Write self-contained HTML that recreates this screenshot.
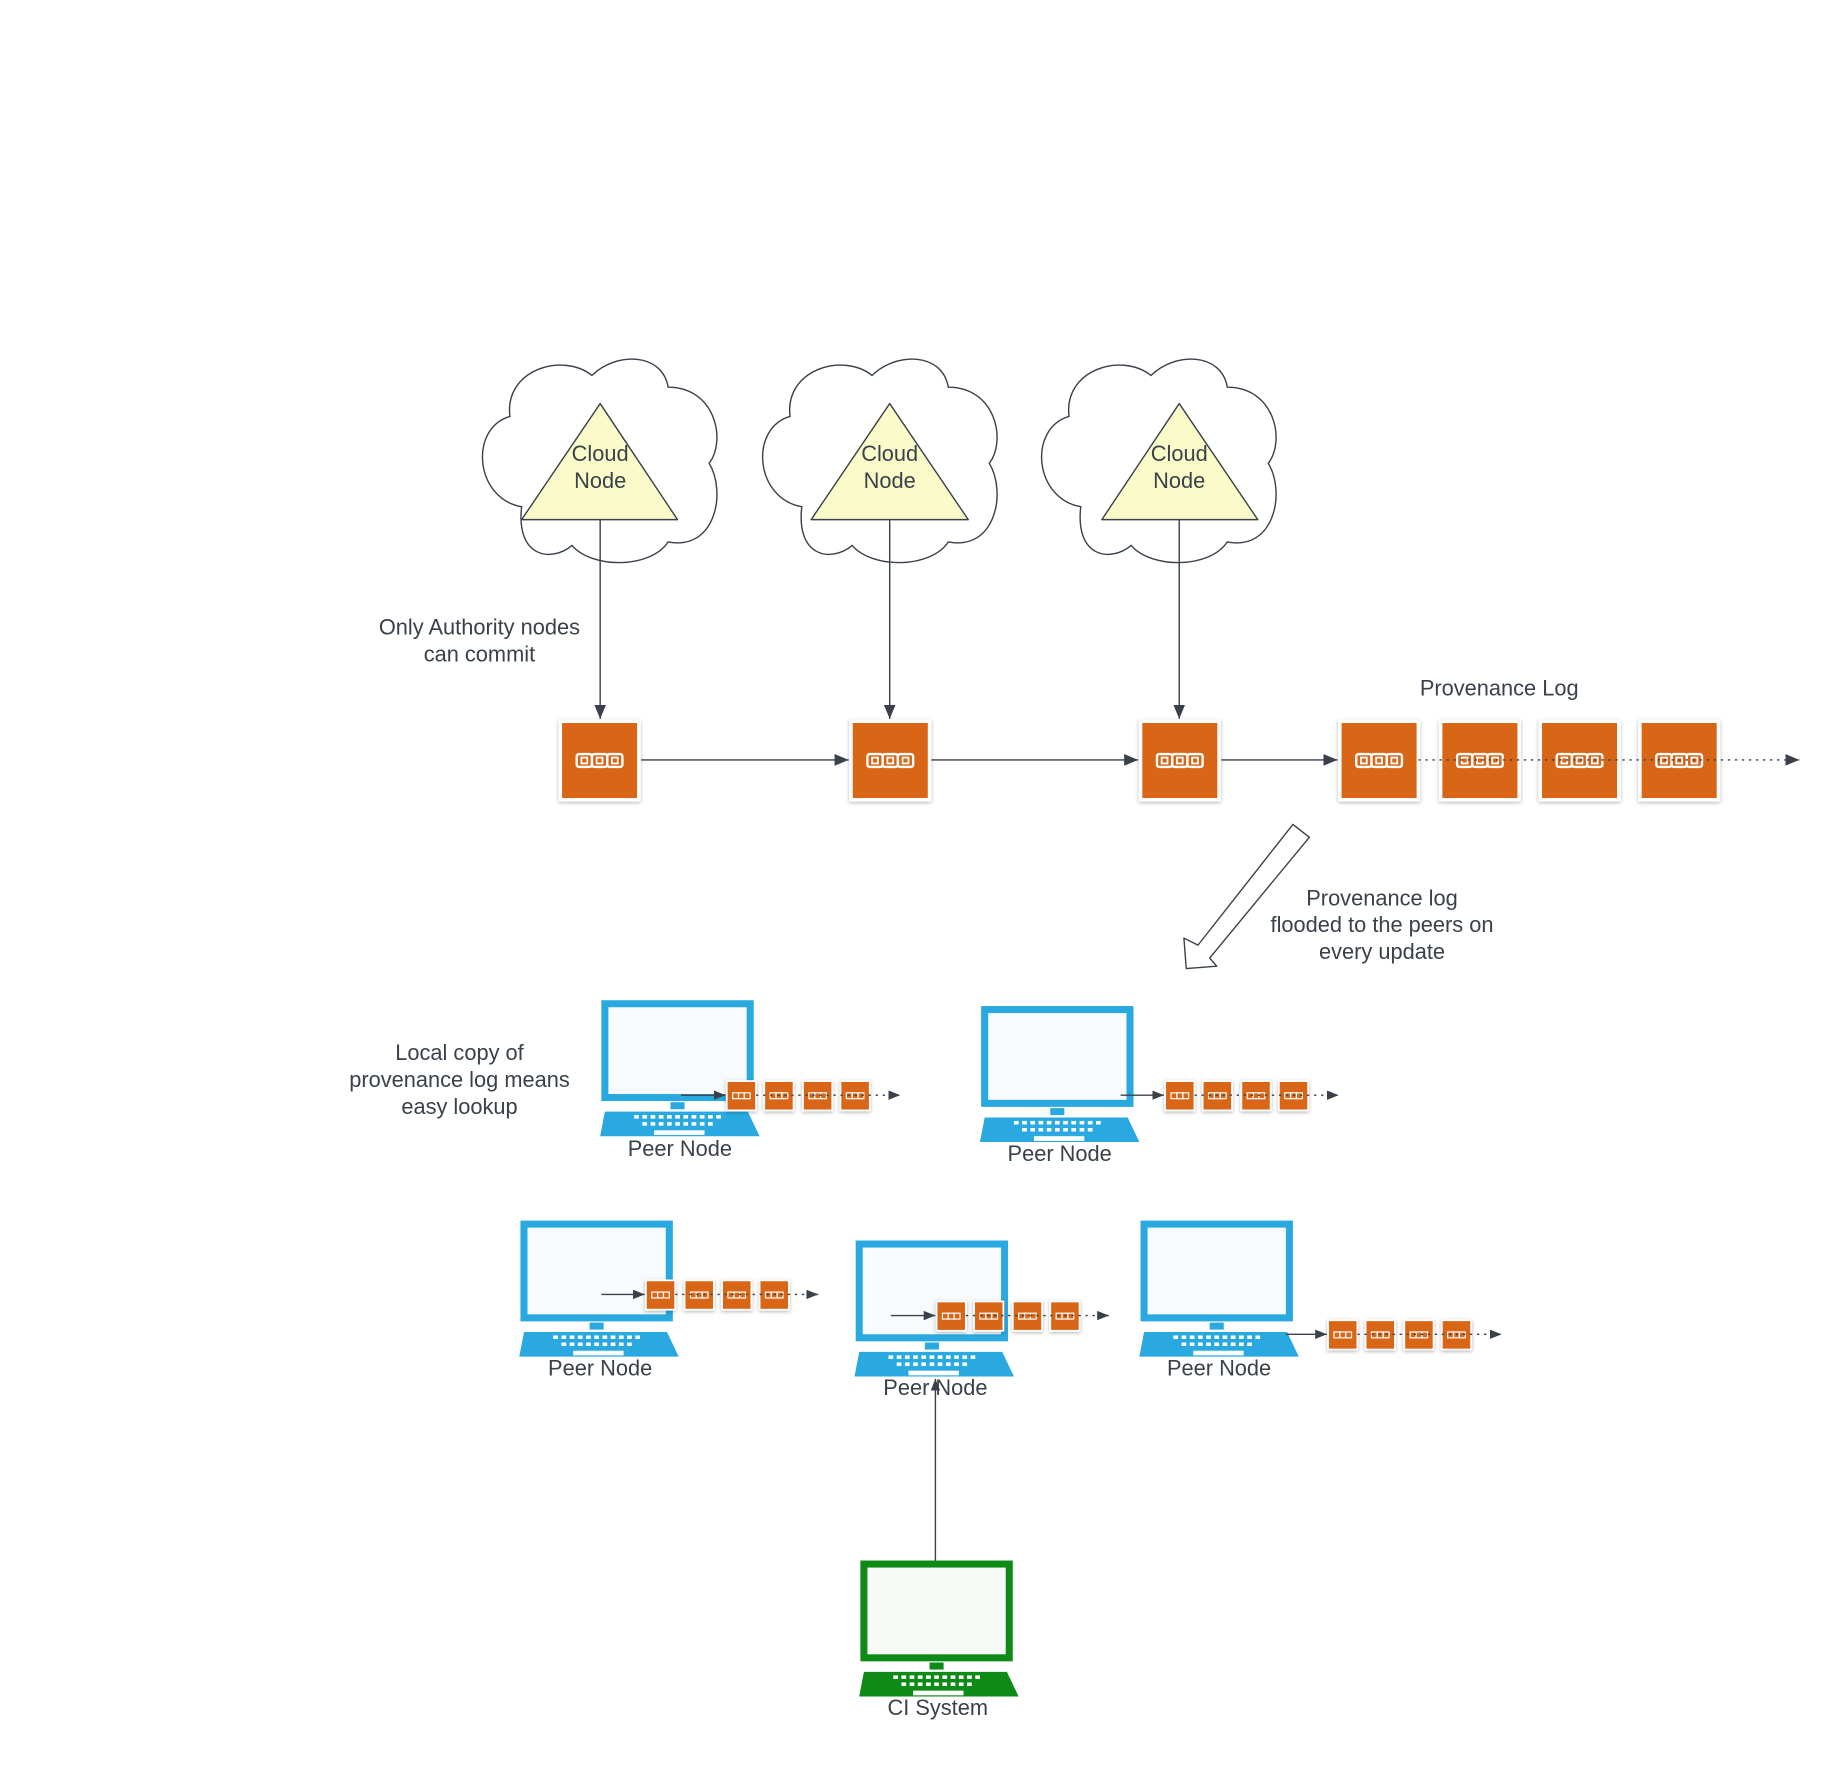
<!DOCTYPE html>
<html><head><meta charset="utf-8"><style>
html,body{margin:0;padding:0;background:#fff;}
svg{display:block;}
text{font-family:"Liberation Sans",Arial,sans-serif;fill:#3a414a;font-size:18.6px;text-anchor:middle;}
</style></head><body>
<svg width="1838" height="1766" viewBox="0 0 1568 1506" xmlns="http://www.w3.org/2000/svg">
<defs>
<filter id="sh" x="-20%" y="-20%" width="140%" height="140%"><feDropShadow dx="0" dy="1" stdDeviation="1.5" flood-color="#000" flood-opacity="0.3"/></filter>
<marker id="ah" markerWidth="10" markerHeight="8" refX="10" refY="4" orient="auto" markerUnits="userSpaceOnUse"><path d="M0,0 L10,4 L0,8 Z" fill="#3a414a"/></marker>
<marker id="ahs" markerWidth="12" markerHeight="10" refX="12" refY="5" orient="auto" markerUnits="userSpaceOnUse"><path d="M0,0 L12,5 L0,10 Z" fill="#3a414a"/></marker>
<g id="cloud">
<path d="M35 124 C-5 117,-10 57,25 47 C20 7,70 -8,95 12 C115 -8,155 -8,160 22 C200 22,210 67,195 87 C210 112,200 162,160 154 C145 177,95 177,78 157 C60 172,30 167,35 124 Z" fill="#fff" stroke="#3a414a" stroke-width="1.2"/>
</g>
<g id="big">
<rect x="0" y="0" width="67" height="67" fill="#d86613" stroke="#fff" stroke-width="3" filter="url(#sh)"/>
<g fill="none" stroke="#fff" stroke-width="2">
<rect x="14" y="28" width="13" height="11" rx="2"/><rect x="27" y="28" width="13" height="11" rx="2"/><rect x="40" y="28" width="13" height="11" rx="2"/>
</g>
<g fill="none" stroke="#fff" stroke-width="1.5"><rect x="18" y="31" width="5" height="5"/><rect x="31" y="31" width="5" height="5"/><rect x="44" y="31" width="5" height="5"/></g>
</g>
<g id="mini">
<rect x="0" y="0" width="25" height="25" fill="#d86613" stroke="#fff" stroke-width="1.5" filter="url(#sh)"/>
<g fill="none" stroke="#fff" stroke-width="1"><rect x="5" y="10" width="5" height="5"/><rect x="10" y="10" width="5" height="5"/><rect x="15" y="10" width="5" height="5"/></g>
</g>
<g id="keys" fill="#fff">
<rect x="28" y="98" width="4" height="3"/><rect x="35" y="98" width="4" height="3"/><rect x="42" y="98" width="4" height="3"/><rect x="49" y="98" width="4" height="3"/><rect x="56" y="98" width="4" height="3"/><rect x="63" y="98" width="4" height="3"/><rect x="70" y="98" width="4" height="3"/><rect x="77" y="98" width="4" height="3"/><rect x="84" y="98" width="4" height="3"/><rect x="91" y="98" width="4" height="3"/><rect x="98" y="98" width="4" height="3"/>
<rect x="35" y="104" width="4" height="3"/><rect x="42" y="104" width="4" height="3"/><rect x="49" y="104" width="4" height="3"/><rect x="56" y="104" width="4" height="3"/><rect x="63" y="104" width="4" height="3"/><rect x="70" y="104" width="4" height="3"/><rect x="77" y="104" width="4" height="3"/><rect x="84" y="104" width="4" height="3"/><rect x="91" y="104" width="4" height="3"/>
<rect x="45" y="111" width="43" height="4"/>
</g>
<g id="lapb">
<rect x="3" y="3" width="124" height="80" fill="#f7fbfd" stroke="#29a9e0" stroke-width="6"/>
<rect x="59" y="87" width="12" height="6" fill="#29a9e0"/>
<polygon points="3,95 125,95 135,116 -1,116" fill="#29a9e0"/>
<use href="#keys"/>
</g>
<g id="lapg">
<rect x="3" y="3" width="124" height="80" fill="#f7faf7" stroke="#0e8a16" stroke-width="6"/>
<rect x="59" y="87" width="12" height="6" fill="#0e8a16"/>
<polygon points="3,95 125,95 135,116 -1,116" fill="#0e8a16"/>
<use href="#keys"/>
</g>
</defs>

<use href="#cloud" x="410" y="308"/>
<use href="#cloud" x="649" y="308"/>
<use href="#cloud" x="887" y="308"/>
<g fill="#fbfbc9" stroke="#3a414a" stroke-width="1.2" stroke-linejoin="round">
<polygon points="512,344 578,443 445,443"/>
<polygon points="759,344 826,443 692,443"/>
<polygon points="1006,344 1073,443 940,443"/>
</g>
<text x="512" y="393">Cloud</text><text x="512" y="416">Node</text>
<text x="759" y="393">Cloud</text><text x="759" y="416">Node</text>
<text x="1006" y="393">Cloud</text><text x="1006" y="416">Node</text>

<g stroke="#3a414a" stroke-width="1.2" fill="none">
<line x1="512" y1="443" x2="512" y2="613" marker-end="url(#ahs)"/>
<line x1="759" y1="443" x2="759" y2="613" marker-end="url(#ahs)"/>
<line x1="1006" y1="443" x2="1006" y2="613" marker-end="url(#ahs)"/>
<line x1="547" y1="648" x2="724" y2="648" marker-end="url(#ahs)"/>
<line x1="794" y1="648" x2="971" y2="648" marker-end="url(#ahs)"/>
<line x1="1042" y1="648" x2="1141" y2="648" marker-end="url(#ahs)"/>
</g>
<use href="#big" x="478" y="615"/>
<use href="#big" x="726" y="615"/>
<use href="#big" x="973" y="615"/>
<use href="#big" x="1143" y="615"/>
<use href="#big" x="1229" y="615"/>
<use href="#big" x="1314" y="615"/>
<use href="#big" x="1399" y="615"/>
<line x1="1210" y1="648" x2="1535" y2="648" stroke="#3a414a" stroke-width="1.2" stroke-dasharray="2,4" marker-end="url(#ahs)"/>

<text x="409" y="541">Only Authority nodes</text>
<text x="409" y="564">can commit</text>
<text x="1279" y="593">Provenance Log</text>

<polygon points="1103,703 1117,714 1032,817 1038,824 1012,826 1010,800 1022,806" fill="#fff" stroke="#3a414a" stroke-width="1.2" stroke-linejoin="round"/>
<text x="1179" y="772">Provenance log</text>
<text x="1179" y="795">flooded to the peers on</text>
<text x="1179" y="818">every update</text>

<text x="392" y="904">Local copy of</text>
<text x="392" y="927">provenance log means</text>
<text x="392" y="950">easy lookup</text>

<use href="#lapb" x="513" y="853"/>
<use href="#lapb" x="837" y="858"/>
<use href="#lapb" x="444" y="1041"/>
<use href="#lapb" x="730" y="1058"/>
<use href="#lapb" x="973" y="1041"/>
<use href="#lapg" x="734" y="1331"/>

<text x="580" y="986">Peer Node</text>
<text x="904" y="990">Peer Node</text>
<text x="512" y="1173">Peer Node</text>
<text x="1040" y="1173">Peer Node</text>

<g stroke="#3a414a" stroke-width="1.2" fill="none">
<line x1="581" y1="934" x2="619" y2="934" marker-end="url(#ah)"/>
<line x1="956" y1="934" x2="993" y2="934" marker-end="url(#ah)"/>
<line x1="513" y1="1104" x2="550" y2="1104" marker-end="url(#ah)"/>
<line x1="760" y1="1122" x2="798" y2="1122" marker-end="url(#ah)"/>
<line x1="1097" y1="1138" x2="1132" y2="1138" marker-end="url(#ah)"/>
<line x1="798" y1="1331" x2="798" y2="1176" marker-end="url(#ah)"/>
</g>
<use href="#mini" x="620" y="922"/><use href="#mini" x="652" y="922"/><use href="#mini" x="685" y="922"/><use href="#mini" x="717" y="922"/>
<use href="#mini" x="994" y="922"/><use href="#mini" x="1026" y="922"/><use href="#mini" x="1059" y="922"/><use href="#mini" x="1091" y="922"/>
<use href="#mini" x="551" y="1092"/><use href="#mini" x="584" y="1092"/><use href="#mini" x="616" y="1092"/><use href="#mini" x="648" y="1092"/>
<use href="#mini" x="799" y="1110"/><use href="#mini" x="831" y="1110"/><use href="#mini" x="864" y="1110"/><use href="#mini" x="896" y="1110"/>
<use href="#mini" x="1133" y="1126"/><use href="#mini" x="1165" y="1126"/><use href="#mini" x="1198" y="1126"/><use href="#mini" x="1230" y="1126"/>
<g stroke="#3a414a" stroke-width="1.2" fill="none" stroke-dasharray="2,4">
<line x1="645" y1="934" x2="768" y2="934" marker-end="url(#ah)"/>
<line x1="1019" y1="934" x2="1142" y2="934" marker-end="url(#ah)"/>
<line x1="576" y1="1104" x2="698" y2="1104" marker-end="url(#ah)"/>
<line x1="824" y1="1122" x2="946" y2="1122" marker-end="url(#ah)"/>
<line x1="1158" y1="1138" x2="1281" y2="1138" marker-end="url(#ah)"/>
</g>

<text x="798" y="1190">Peer Node</text>
<text x="800" y="1463">CI System</text>
</svg>
</body></html>
